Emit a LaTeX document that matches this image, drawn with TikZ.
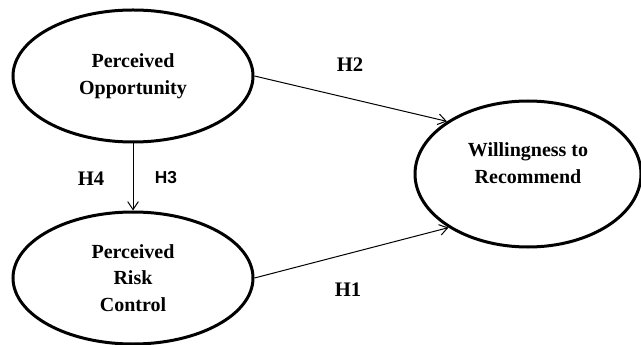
\documentclass[tikz,border=0pt]{standalone}
\usepackage{fontspec}
\setmainfont{Liberation Serif}
\newfontfamily\hsans{Liberation Sans}
\usetikzlibrary{arrows.meta,shapes.geometric}

\tikzset{every picture/.style={line width=0.75pt}}
\tikzset{
  construct/.style={ellipse, draw, line width=2.25pt, align=center, inner sep=0pt,
    font=\fontsize{15}{20}\selectfont\bfseries},
  hyp/.style={inner sep=0.75pt, font=\fontsize{15.5}{18}\selectfont\bfseries},
  link/.style={-{Straight Barb[length=6pt,width=8pt]}, line width=0.75pt}
}

\begin{document}
\begin{tikzpicture}[x=0.75pt,y=0.75pt,yscale=-1,xscale=1]
%set diagram to the size of the reference
\path [use as bounding box] (0,0) rectangle (641,345);

%Shape: Ellipse [opportunity]
\node [construct, minimum width=180pt, minimum height=99pt] (opp) at (133,76) {Perceived\\Opportunity};
%Shape: Ellipse [risk control]
\node [construct, minimum width=180pt, minimum height=99pt] (risk) at (133,278) {Perceived\\Risk\\Control};
%Shape: Ellipse [willingness], text sits a little high
\node [construct, minimum width=169.5pt, minimum height=109.5pt, text depth=16pt] (will) at (528,174) {Willingness to\\Recommend};

%Straight Lines
\draw [link] (opp.east) -- (will.147.5);
\draw [link] (risk.east) -- (will.214);
\draw [link] (opp.south) -- (risk.north);

% Text Node
\node [hyp] (h2) at (350,65) {H2};
% Text Node
\node [hyp] (h1) at (348,290) {H1};
% Text Node
\node [hyp] (h4) at (91,179) {H4};
% Text Node
\node [hyp, font=\hsans\fontsize{13}{15}\selectfont\bfseries] (h3) at (166,178) {H3};

\end{tikzpicture}
\end{document}
